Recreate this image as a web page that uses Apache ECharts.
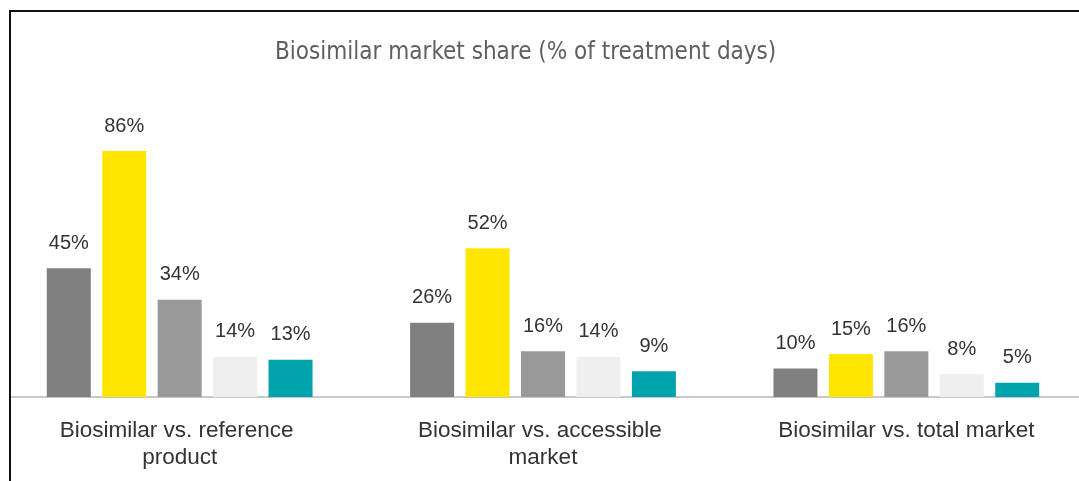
<!DOCTYPE html>
<html>
<head>
<meta charset="utf-8">
<script src="https://cdn.jsdelivr.net/npm/echarts@6/dist/echarts.min.js"></script>
<style>
  html, body { margin: 0; padding: 0; background: #fff; }
  #chart { width: 1079px; height: 481px; }
</style>
</head>
<body>
<div id="chart"></div>
<script>
const title = 'Biosimilar market share (% of treatment days)';
const categories = ['Biosimilar vs. reference product', 'Biosimilar vs. accessible market', 'Biosimilar vs. total market'];
const seriesA = [45, 26, 10];
const seriesB = [86, 52, 15];
const seriesC = [34, 16, 16];
const seriesD = [14, 14, 8];
const seriesE = [13, 9, 5];
const seriesList = [seriesA, seriesB, seriesC, seriesD, seriesE];
const colors = ['#808080', '#FFE600', '#999999', '#EFEFEF', '#00A2AC'];

const chart = echarts.init(document.getElementById('chart'), null, { renderer: 'canvas' });

const series = seriesList.map((vals, i) => ({
  type: 'bar',
  data: vals,
  barWidth: 44,
  barGap: '26%',
  itemStyle: { color: colors[i] },
  label: {
    show: true,
    position: 'top',
    distance: 15,
    formatter: '{c}%',
    color: '#333',
    fontFamily: 'Liberation Sans, Arial, sans-serif',
    fontSize: 20
  },
  emphasis: { disabled: true },
  animation: false
}));

chart.setOption({
  animation: false,
  title: {
    text: title,
    left: 270,
    top: 36,
    textStyle: {
      fontFamily: 'DejaVu Sans Condensed, DejaVu Sans, sans-serif',
      fontWeight: 'normal',
      fontSize: 24,
      color: '#5f5f5f'
    }
  },
  grid: { left: -2, width: 1090, top: 111, bottom: 84, containLabel: false, outerBoundsMode: 'none' },
  xAxis: {
    type: 'category',
    data: categories,
    axisLine: { show: true, lineStyle: { color: '#C8C8C8', width: 2 } },
    axisTick: { show: false },
    axisLabel: {
      interval: 0,
      margin: 20,
      width: 300,
      overflow: 'break',
      lineHeight: 27,
      color: '#333',
      fontFamily: 'Liberation Sans, Arial, sans-serif',
      fontSize: 22.5
    }
  },
  yAxis: {
    type: 'value',
    min: 0,
    max: 100,
    show: false,
    splitLine: { show: false }
  },
  series: series,
  graphic: [
    { type: 'rect', z: 100, shape: { x: 0, y: 0, width: 9, height: 481 }, style: { fill: '#fff' } },
    { type: 'rect', z: 101, shape: { x: 9, y: 10, width: 1070, height: 2 }, style: { fill: '#111' } },
    { type: 'rect', z: 101, shape: { x: 9, y: 10, width: 2, height: 471 }, style: { fill: '#111' } }
  ]
});
</script>
</body>
</html>
